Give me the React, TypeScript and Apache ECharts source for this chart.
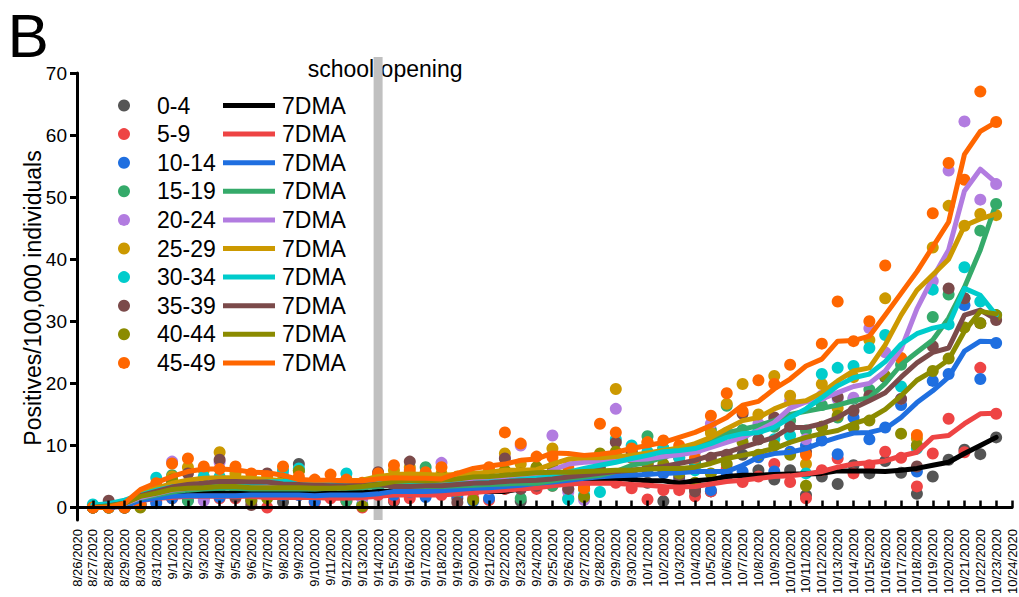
import React, { useEffect, useRef } from "react";
import * as echarts from "echarts";

const DATES = [
  "8/26/2020", "8/27/2020", "8/28/2020", "8/29/2020", "8/30/2020", "8/31/2020",
  "9/1/2020", "9/2/2020", "9/3/2020", "9/4/2020", "9/5/2020", "9/6/2020", "9/7/2020", "9/8/2020",
  "9/9/2020", "9/10/2020", "9/11/2020", "9/12/2020", "9/13/2020", "9/14/2020", "9/15/2020",
  "9/16/2020", "9/17/2020", "9/18/2020", "9/19/2020", "9/20/2020", "9/21/2020", "9/22/2020",
  "9/23/2020", "9/24/2020", "9/25/2020", "9/26/2020", "9/27/2020", "9/28/2020", "9/29/2020",
  "9/30/2020", "10/1/2020", "10/2/2020", "10/3/2020", "10/4/2020", "10/5/2020", "10/6/2020",
  "10/7/2020", "10/8/2020", "10/9/2020", "10/10/2020", "10/11/2020", "10/12/2020", "10/13/2020",
  "10/14/2020", "10/15/2020", "10/16/2020", "10/17/2020", "10/18/2020", "10/19/2020",
  "10/20/2020", "10/21/2020", "10/22/2020", "10/23/2020", "10/24/2020",
];

const AGE_GROUPS = ["0-4", "5-9", "10-14", "15-19", "20-24", "25-29", "30-34", "35-39", "40-44", "45-49"];
const DOT_COLORS = ["#555555", "#ee4444", "#1f6fe0", "#35aa6a", "#b27ce0", "#cc9900", "#00cccc", "#7b4a4a", "#8b8b00", "#ff6600"];
const LINE_COLORS = ["#000000", "#ee4444", "#1f6fe0", "#35aa6a", "#b27ce0", "#cc9900", "#00cccc", "#7b4a4a", "#8b8b00", "#ff6600"];
const LINE_LABEL = "7DMA";
const Y_TICKS = [0, 10, 20, 30, 40, 50, 60, 70];
const SCHOOL_OPENING = "9/14/2020";
const SCHOOL_LABEL = "school opening";
const PANEL_LABEL = "B";
const Y_TITLE = "Positives/100,000 individuals";

// daily points, 8/27 .. 10/23
const PTS_0_4 = [0, 0.5, 0, 0.5, 1.5, 2.0, 2.5, 2.3, 3.0, 2.0, 1.0, 2.0, 0.9, 7.0, 1.5, 2.0, 2.5, 2.0, 2.8,
  1.0, 2.5, 3.0, 2.5, 1.5, 2.5, 3.0, 3.0, 1.0, 4.0, 4.5, 4.0, 5.0, 5.0, 5.0, 5.0, 4.0, 1.0, 3.5, 3.0,
  2.6, 5.0, 8.5, 6.0, 4.5, 6.0, 2.0, 5.0, 3.8, 6.8, 5.5, 7.5, 5.6, 2.2, 5.0, 7.7, 9.3, 8.6, 11.3];
const PTS_5_9 = [0, 0, 0, 0.5, 1.0, 1.5, 2.0, 1.5, 1.5, 1.5, 2.0, 0, 2.5, 2.0, 0.8, 1.5, 1.0, 0, 2.0,
  1.2, 1.5, 2.0, 2.0, 2.0, 1.5, 1.2, 3.0, 3.5, 3.0, 3.5, 3.0, 3.5, 4.5, 4.0, 3.1, 1.3, 2.8, 2.8, 1.8,
  2.6, 6.3, 4.1, 5.0, 7.0, 4.1, 1.5, 6.0, 7.9, 5.5, 6.8, 9.0, 8.0, 3.4, 8.7, 14.3, 8.9, 22.5, 15.1];
const PTS_10_14 = [0, 0, 0, 0.3, 0.7, 1.5, 1.2, 1.8, 1.7, 2.0, 1.5, 2.5, 2.0, 2.0, 1.0, 2.5, 2.0, 1.5, 2.5,
  2.0, 2.5, 1.7, 3.0, 2.0, 1.0, 1.5, 3.5, 3.0, 4.0, 4.0, 4.5, 4.0, 5.5, 5.0, 5.5, 6.0, 5.5, 4.5, 7.0,
  2.8, 5.5, 5.8, 8.1, 5.8, 9.0, 10.0, 10.8, 8.6, 14.5, 11.0, 12.9, 16.5, 5.8, 20.4, 21.5, 32.6, 20.7, 26.5];
const PTS_15_19 = [0, 0, 0, 0.5, 2.0, 5.2, 1.1, 3.0, 3.5, 3.0, 2.5, 3.0, 3.0, 6.0, 3.0, 3.0, 1.1, 0.5, 4.0,
  4.5, 5.0, 6.5, 3.5, 2.5, 3.5, 3.0, 5.0, 1.5, 4.5, 3.5, 1.5, 3.0, 6.5, 8.5, 9.0, 11.5, 9.5, 9.0, 7.5,
  12.5, 16.4, 12.5, 11.0, 13.0, 14.0, 12.4, 16.5, 14.5, 17.5, 19.0, 21.0, 23.0, 10.0, 30.7, 34.3, 33.7, 44.6, 48.9];
const PTS_20_24 = [0, 0, 0, 0.5, 2.5, 7.4, 4.0, 1.1, 7.3, 3.0, 2.0, 3.0, 5.5, 4.0, 3.0, 2.5, 3.5, 1.5, 4.0,
  5.0, 5.5, 4.5, 7.2, 3.5, 4.0, 3.0, 8.0, 10.0, 5.0, 11.6, 2.5, 1.2, 7.5, 15.9, 8.0, 7.0, 8.5, 8.0, 9.0,
  13.5, 12.0, 12.0, 13.5, 14.0, 17.2, 11.0, 18.0, 17.5, 17.7, 28.9, 25.0, 17.5, 10.0, 36.5, 54.3, 62.2, 49.6, 52.1];
const PTS_25_29 = [0, 0, 0, 1.0, 3.0, 5.0, 6.5, 6.0, 8.9, 5.5, 3.5, 4.0, 4.5, 6.0, 4.0, 4.0, 4.5, 3.5, 5.0,
  6.0, 6.5, 5.0, 5.5, 5.0, 4.5, 6.0, 8.7, 7.0, 6.5, 9.5, 4.0, 3.0, 7.3, 19.1, 8.5, 10.5, 9.5, 8.0, 9.5,
  12.0, 16.7, 19.9, 15.0, 21.2, 18.0, 7.0, 19.9, 16.0, 21.0, 27.0, 33.7, 24.0, 11.1, 41.9, 48.6, 45.4, 47.3, 47.1];
const PTS_30_34 = [0.5, 0, 0.5, 1.0, 4.8, 4.0, 3.0, 5.0, 4.95, 3.5, 3.0, 3.5, 6.0, 6.3, 3.5, 4.0, 5.5, 3.0, 4.0,
  3.5, 4.0, 3.5, 4.5, 3.5, 4.0, 3.5, 5.0, 4.0, 5.0, 5.0, 1.3, 2.0, 2.5, 11.0, 10.0, 9.0, 9.5, 8.0, 6.0,
  10.5, 12.0, 11.5, 12.5, 11.0, 11.6, 5.5, 21.5, 22.5, 22.8, 25.7, 27.8, 19.5, 9.5, 35.1, 29.5, 38.7, 33.2, 31.0];
const PTS_35_39 = [0, 1.1, 0, 0.5, 2.5, 4.0, 5.5, 3.5, 7.7, 1.7, 0.4, 5.5, 4.0, 4.5, 3.5, 3.0, 3.5, 2.5, 5.7,
  3.5, 7.4, 3.0, 4.0, 0.8, 3.0, 3.5, 7.9, 3.0, 3.5, 5.0, 3.0, 4.0, 6.0, 10.5, 9.0, 7.0, 6.0, 5.0, 2.6,
  8.0, 8.5, 15.1, 11.0, 14.5, 13.0, 9.0, 13.0, 17.8, 15.6, 18.0, 21.0, 17.5, 6.6, 26.0, 35.3, 33.7, 29.7, 30.2];
const PTS_40_44 = [0, 0, 0, 0, 2.0, 4.5, 3.0, 3.5, 4.0, 3.0, 1.2, 1.5, 4.0, 5.9, 3.0, 3.0, 3.5, 0.2, 4.0,
  4.5, 5.0, 5.5, 5.0, 4.5, 1.2, 4.0, 6.0, 5.5, 6.5, 6.5, 5.0, 1.7, 8.7, 9.0, 8.0, 7.0, 7.0, 5.5, 4.0,
  5.5, 7.0, 10.5, 8.5, 10.0, 8.5, 3.5, 13.0, 14.8, 12.9, 14.0, 21.2, 11.9, 10.0, 22.0, 24.0, 29.0, 29.7, 31.0];
const PTS_45_49 = [0, 0, 0, 0.5, 3.9, 7.1, 7.9, 6.6, 6.2, 6.6, 5.5, 5.0, 6.6, 5.0, 4.5, 5.3, 4.5, 4.0, 5.5,
  6.8, 6.0, 5.7, 6.5, 4.5, 5.0, 6.5, 12.1, 10.3, 8.2, 8.1, 6.5, 3.1, 13.5, 12.1, 9.5, 10.5, 10.8, 10.0, 8.0,
  14.8, 18.4, 15.5, 20.5, 19.9, 23.0, 8.5, 26.4, 33.2, 26.8, 30.0, 39.0, 24.1, 11.7, 47.4, 55.5, 52.8, 67.0, 62.1];

// 7-day moving averages, 8/27 .. 10/23
const L_0_4 = [0, 0.2, 0.4, 1.5, 1.9, 2.2, 2.3, 2.4, 2.3, 2.3, 2.4, 2.3, 2.3, 2.3, 2.2, 2.3, 2.4, 2.4, 2.6,
  2.6, 2.7, 2.6, 2.6, 2.7, 2.7, 2.6, 2.6, 3.0, 3.4, 3.8, 4.2, 4.5, 4.6, 4.7, 4.5, 4.3, 4.3, 3.9, 4.3,
  4.5, 5.0, 5.2, 5.2, 5.3, 5.4, 5.4, 5.5, 5.9, 5.9, 5.9, 5.8, 6.0, 6.3, 6.8, 7.3, 8.7, 10.0, 11.3];
const L_5_9 = [0, 0.05, 0.2, 1.1, 1.5, 1.6, 1.8, 1.8, 1.8, 1.8, 1.8, 1.6, 1.6, 1.6, 1.6, 1.5, 1.5, 1.6, 1.8,
  2.0, 2.0, 2.0, 2.0, 2.2, 2.4, 2.6, 2.8, 3.0, 3.2, 3.5, 3.8, 3.9, 3.9, 3.9, 3.7, 3.6, 3.4, 3.3, 3.4,
  3.8, 4.2, 4.4, 4.7, 5.0, 5.1, 5.4, 5.8, 6.5, 7.0, 7.2, 7.5, 8.3, 8.9, 11.3, 11.6, 13.5, 15.1, 15.2];
const L_10_14 = [0, 0.05, 0.2, 1.2, 1.5, 1.8, 1.9, 1.9, 1.9, 1.9, 2.0, 2.0, 2.0, 2.0, 1.9, 2.0, 2.0, 2.0, 2.2,
  2.6, 2.6, 2.6, 2.7, 2.9, 3.1, 3.2, 3.4, 3.6, 3.9, 4.1, 4.4, 4.7, 4.95, 5.1, 5.2, 5.3, 5.5, 5.6, 5.8,
  5.8, 5.8, 6.8, 8.1, 8.7, 8.9, 9.5, 10.5, 11.3, 12.0, 12.1, 12.7, 14.5, 16.9, 18.8, 21.0, 25.2, 26.8, 26.7];
const L_15_19 = [0, 0.2, 0.6, 1.5, 2.0, 2.5, 2.8, 3.0, 3.1, 3.1, 3.0, 3.0, 3.0, 3.0, 3.0, 3.1, 3.1, 3.2, 3.4,
  3.6, 3.4, 3.4, 3.4, 3.5, 3.6, 3.7, 3.8, 3.9, 3.9, 4.3, 4.7, 4.9, 5.2, 5.8, 6.8, 7.3, 8.1, 8.9, 9.8,
  11.0, 12.0, 12.6, 13.2, 14.0, 15.0, 15.5, 16.0, 16.5, 17.2, 17.7, 20.0, 23.0, 25.0, 27.0, 30.5, 35.5, 41.5, 49.0];
const L_20_24 = [0, 0.2, 0.6, 1.6, 2.2, 2.8, 3.1, 3.3, 3.5, 3.5, 3.4, 3.4, 3.5, 3.4, 3.3, 3.3, 3.4, 3.6, 3.8,
  4.0, 4.1, 4.2, 4.2, 4.4, 4.6, 4.8, 4.9, 5.0, 5.0, 6.0, 7.0, 7.3, 7.4, 7.6, 7.7, 7.8, 8.2, 8.5, 8.9,
  9.7, 10.5, 11.3, 12.4, 13.7, 16.0, 17.0, 17.5, 18.5, 19.5, 20.0, 22.0, 25.5, 32.0, 37.0, 41.5, 51.0, 54.5, 52.3];
const L_25_29 = [0, 0.2, 1.0, 2.3, 3.1, 3.9, 4.4, 4.7, 4.8, 4.8, 4.7, 4.5, 4.3, 4.2, 4.2, 4.2, 4.3, 4.4, 5.0,
  5.3, 5.4, 5.3, 5.2, 5.3, 5.5, 5.7, 6.0, 6.0, 6.1, 7.0, 7.8, 8.0, 8.0, 8.2, 8.4, 8.8, 9.2, 9.6, 10.3,
  11.3, 12.7, 14.0, 14.5, 15.9, 16.9, 17.2, 18.5, 20.4, 22.0, 22.5, 26.2, 31.0, 35.0, 37.5, 40.0, 45.4, 46.5, 47.3];
const L_30_34 = [0.4, 0.6, 1.2, 2.0, 2.8, 3.3, 3.6, 3.7, 3.7, 3.8, 3.9, 4.1, 4.2, 4.4, 4.3, 4.2, 4.2, 4.2, 4.1,
  3.9, 3.9, 3.8, 3.6, 3.8, 3.9, 4.1, 4.2, 4.5, 4.7, 5.0, 5.7, 6.3, 6.8, 7.3, 7.9, 8.4, 9.0, 9.2, 9.5,
  10.3, 11.3, 11.9, 12.1, 12.9, 14.5, 15.9, 17.7, 19.6, 20.9, 21.5, 23.5, 26.3, 28.0, 28.9, 29.4, 35.3, 34.2, 31.0];
const L_35_39 = [0, 0.3, 0.7, 1.9, 2.6, 3.3, 3.7, 3.9, 4.2, 4.2, 4.1, 4.1, 3.8, 3.7, 3.6, 3.5, 3.5, 3.6, 3.7,
  3.4, 3.4, 3.5, 3.5, 3.7, 3.9, 4.0, 4.2, 4.3, 4.4, 4.6, 4.9, 5.2, 5.5, 5.8, 6.0, 6.3, 6.6, 7.1, 7.6,
  8.4, 8.9, 9.7, 10.5, 11.3, 12.9, 12.9, 13.5, 14.5, 16.0, 17.2, 18.5, 21.0, 23.3, 25.0, 25.7, 31.0, 31.8, 30.3];
const L_40_44 = [0, 0.2, 0.7, 1.8, 2.3, 2.9, 3.1, 3.2, 3.4, 3.4, 3.2, 3.2, 3.2, 3.2, 3.1, 3.1, 3.2, 3.4, 3.7,
  4.2, 4.3, 4.3, 4.4, 4.6, 4.9, 5.0, 5.2, 5.4, 5.6, 5.7, 5.7, 5.8, 5.9, 6.0, 6.0, 6.2, 6.3, 6.3, 6.5,
  7.1, 7.9, 8.4, 8.9, 9.5, 10.5, 11.3, 11.9, 12.4, 13.5, 14.3, 15.8, 18.0, 20.5, 22.0, 23.8, 28.4, 31.6, 31.2];
const L_45_49 = [0, 0, 0.7, 2.9, 4.0, 5.0, 5.8, 6.2, 6.2, 6.1, 5.7, 5.6, 5.2, 4.5, 4.4, 4.4, 4.3, 4.3, 4.6,
  4.8, 4.7, 4.7, 4.6, 5.5, 6.3, 6.7, 7.0, 7.6, 7.8, 8.8, 8.7, 8.4, 8.6, 8.9, 9.5, 10.0, 10.5, 11.3, 12.1,
  13.2, 14.5, 16.5, 17.1, 19.1, 20.7, 22.8, 23.9, 26.8, 26.9, 27.6, 31.0, 34.5, 38.0, 42.0, 46.0, 56.9, 60.6, 62.1];

const POINTS = [PTS_0_4, PTS_5_9, PTS_10_14, PTS_15_19, PTS_20_24, PTS_25_29, PTS_30_34, PTS_35_39, PTS_40_44, PTS_45_49];
const LINES = [L_0_4, L_5_9, L_10_14, L_15_19, L_20_24, L_25_29, L_30_34, L_35_39, L_40_44, L_45_49];

const FONT = '"Liberation Sans", Arial, Helvetica, sans-serif';

function buildOption(bandX: number, bandBottom: number): any {
  const toPairs = (vals: number[]) => vals.map((v, i) => [DATES[i + 1], v]);
  const scatter = POINTS.map((vals, k) => ({
    type: "scatter",
    name: AGE_GROUPS[k],
    data: toPairs(vals),
    symbol: "circle",
    symbolSize: 12,
    itemStyle: { color: DOT_COLORS[k], opacity: 1 },
    silent: true,
    z: 2,
  }));
  const lines = LINES.map((vals, k) => ({
    type: "line",
    name: AGE_GROUPS[k] + " " + LINE_LABEL,
    data: toPairs(vals),
    symbol: "none",
    showSymbol: false,
    lineStyle: { color: LINE_COLORS[k], width: 5, join: "round", cap: "round" },
    itemStyle: { color: LINE_COLORS[k] },
    silent: true,
    z: 3,
  }));

  const graphic: any[] = [];
  graphic.push({
    type: "text", x: 7.5, y: 35.5, z: 20,
    style: { text: PANEL_LABEL, fontSize: 62, fontFamily: FONT, fill: "#000", align: "left", verticalAlign: "middle" },
  });
  graphic.push({
    type: "text", x: 33, y: 298, rotation: Math.PI / 2, z: 20,
    style: { text: Y_TITLE, fontSize: 23, fontFamily: FONT, fill: "#000", align: "center", verticalAlign: "middle" },
  });
  graphic.push({
    type: "rect", z: 1,
    shape: { x: bandX - 4.5, y: 57, width: 9, height: bandBottom - 57 },
    style: { fill: "#c0c0c0" },
  });
  graphic.push({
    type: "text", x: bandX + 7, y: 69, z: 0,
    style: { text: SCHOOL_LABEL, fontSize: 23, fontFamily: FONT, fill: "#000", align: "center", verticalAlign: "middle" },
  });
  AGE_GROUPS.forEach((g, k) => {
    const y = 105.5 + 28.6 * k;
    graphic.push({ type: "circle", z: 20, shape: { cx: 124, cy: y, r: 6 }, style: { fill: DOT_COLORS[k] } });
    graphic.push({
      type: "text", x: 157, y, z: 20,
      style: { text: g, fontSize: 23, fontFamily: FONT, fill: "#000", align: "left", verticalAlign: "middle" },
    });
    graphic.push({
      type: "line", z: 20, shape: { x1: 223, y1: y, x2: 275, y2: y },
      style: { stroke: LINE_COLORS[k], lineWidth: 5 },
    });
    graphic.push({
      type: "text", x: 282, y, z: 20,
      style: { text: LINE_LABEL, fontSize: 23, fontFamily: FONT, fill: "#000", align: "left", verticalAlign: "middle" },
    });
  });

  return {
    animation: false,
    backgroundColor: "#ffffff",
    grid: { left: 77, right: 7, top: 73, bottom: 74, containLabel: false },
    xAxis: {
      type: "category",
      data: DATES,
      boundaryGap: false,
      z: 10,
      axisLine: { show: true, lineStyle: { color: "#000", width: 3 } },
      axisTick: { show: true, inside: true, length: 7, interval: 0, lineStyle: { color: "#000", width: 2.5 } },
      axisLabel: { interval: 0, rotate: 90, fontSize: 13, fontFamily: FONT, color: "#000", margin: 9 },
      splitLine: { show: false },
    },
    yAxis: {
      type: "value",
      min: -2,
      max: 70,
      z: 10,
      axisLine: { show: true, lineStyle: { color: "#000", width: 3 } },
      axisTick: { show: true, inside: false, length: 7, customValues: Y_TICKS, lineStyle: { color: "#000", width: 3 } },
      axisLabel: { customValues: Y_TICKS, fontSize: 19, fontFamily: FONT, color: "#000", margin: 10 },
      splitLine: { show: false },
    },
    graphic,
    series: [...scatter, ...lines],
  };
}

export default function App() {
  const ref = useRef<HTMLDivElement>(null);
  useEffect(() => {
    if (!ref.current) return;
    const chart = echarts.init(ref.current, null, { renderer: "svg" });
    chart.setOption(buildOption(378, 523), true);
    const bx = chart.convertToPixel({ xAxisIndex: 0 }, SCHOOL_OPENING) as number;
    const by = chart.convertToPixel({ yAxisIndex: 0 }, -2) as number;
    if (typeof bx === "number" && isFinite(bx) && typeof by === "number" && isFinite(by)) {
      chart.setOption(buildOption(bx, by), true);
    }
    return () => chart.dispose();
  }, []);
  return (
    <div
      ref={ref}
      style={{ position: "fixed", left: 0, top: 0, width: 1019, height: 597, background: "#fff" }}
    />
  );
}
